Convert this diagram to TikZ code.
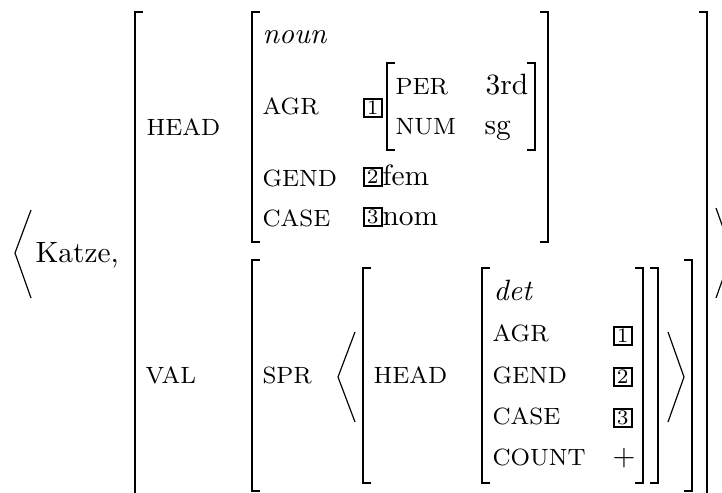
\documentclass[tikz,border=0pt]{standalone}
\usetikzlibrary{positioning}
% square brackets of the feature structures: x, top, bottom
\newcommand{\avmlbrack}[3]{\draw[brk] (#1+8,#2) -| (#1,#3) -- (#1+8,#3);}
\newcommand{\avmrbrack}[3]{\draw[brk] (#1-8,#2) -| (#1,#3) -- (#1-8,#3);}

\begin{document}
\begin{tikzpicture}[x=0.34pt, y=-0.34pt,
	lbl/.style={font=\footnotesize, anchor=base west, inner sep=0pt},
	txt/.style={anchor=base west, inner sep=0pt},
	tag/.style={draw, line width=0.65pt, font=\scriptsize, inner xsep=1pt, inner ysep=0.7pt, anchor=south west},
	brk/.style={line width=0.55pt},
	ang/.style={line width=0.4pt}]

	\useasboundingbox (0,0) rectangle (722,493);
	\clip (0,0) rectangle (722,493);

	% the pair
	\node[txt] (katze) at (35,263) {Katze,};
	\draw[ang] (31,210) -- (15,253) -- (31,298);
	\draw[ang] (716,208) -- (732,253) -- (716,298);

	% outer structure
	\avmlbrack{135}{12}{520}
	\avmrbrack{707}{12}{520}
	\node[lbl] (head) at (146,136) {HEAD};
	\node[lbl] (val) at (145,384) {VAL};

	% HEAD value
	\avmlbrack{252}{12}{242}
	\avmrbrack{548}{12}{242}
	\node[txt, font=\itshape] (noun) at (262,44) {noun};
	\node[lbl] (agr) at (262,115) {AGR};
	\node[lbl] (gend) at (262,187) {GEND};
	\node[lbl] (case) at (262,227) {CASE};
	\node[tag] (t1) at (363,118) {1};
	\avmlbrack{387}{63}{150}
	\avmrbrack{535}{63}{150}
	\node[lbl] (per) at (395,95) {PER};
	\node[txt] (third) at (485,95) {3rd};
	\node[lbl] (num) at (395,135) {NUM};
	\node[txt] (sg) at (484,135) {sg};
	\node[tag] (t2) at (363,187) {2};
	\node[txt] (fem) at (382,186) {fem};
	\node[tag] (t3) at (363,227) {3};
	\node[txt] (nom) at (382,226) {nom};

	% VAL value
	\avmlbrack{252}{260}{491}
	\avmrbrack{692}{260}{491}
	\node[lbl] (spr) at (262,384) {SPR};
	\draw[ang] (355,332) -- (338,377) -- (355,422);
	\draw[ang] (668,332) -- (684,377) -- (668,422);
	\avmlbrack{363}{268}{483}
	\avmrbrack{658}{268}{483}
	\node[lbl] (dethead) at (373,384) {HEAD};
	\avmlbrack{482}{268}{483}
	\avmrbrack{643}{268}{483}
	\node[txt, font=\itshape] (det) at (493,301) {det};
	\node[lbl] (detagr) at (492,342) {AGR};
	\node[lbl] (detgend) at (492,383) {GEND};
	\node[lbl] (detcase) at (492,424) {CASE};
	\node[lbl] (count) at (492,466) {COUNT};
	\node[tag] (t4) at (613,346) {1};
	\node[tag] (t5) at (613,387) {2};
	\node[tag] (t6) at (613,428) {3};
	\node[txt] (plus) at (612,466) {$+$};
\end{tikzpicture}
\end{document}
